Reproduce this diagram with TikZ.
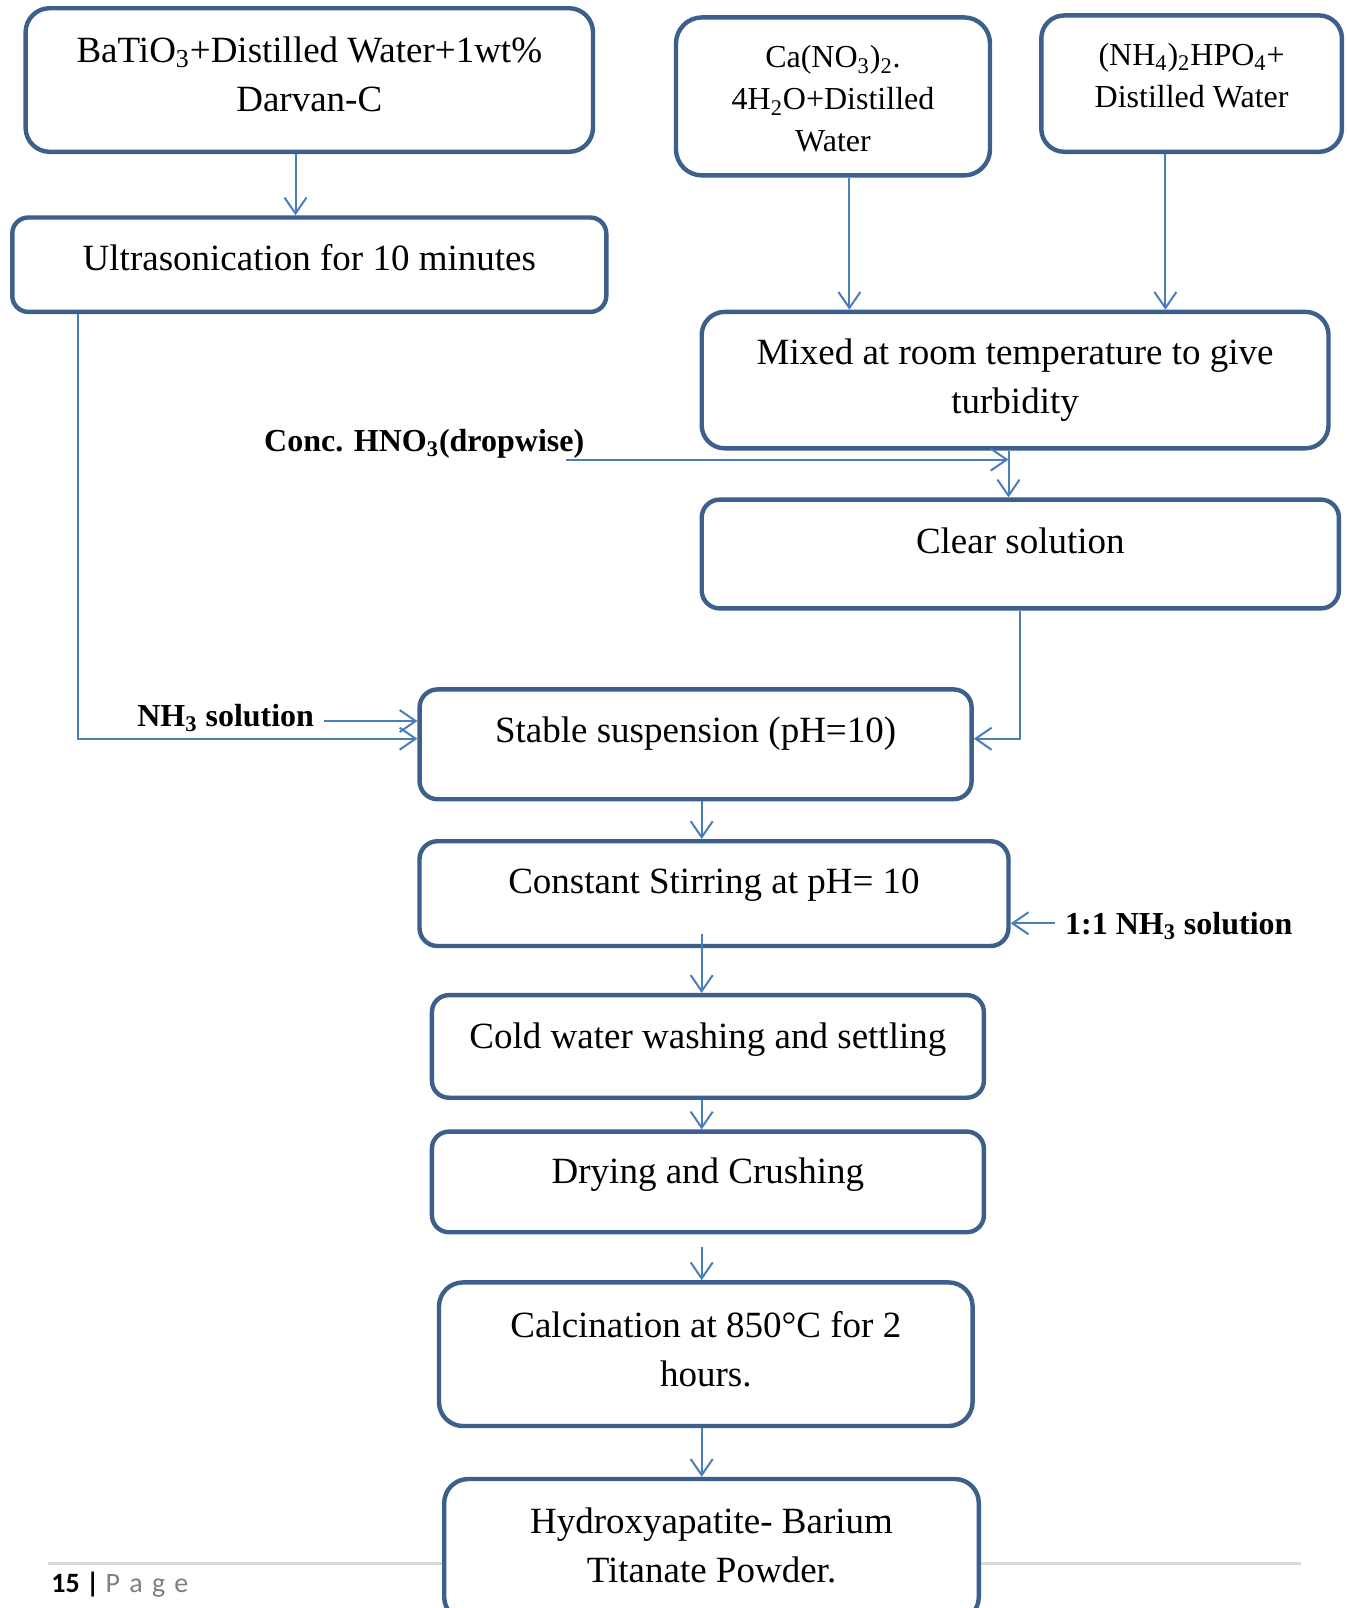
\documentclass[tikz,border=0pt]{standalone}
\usepackage{fontspec}
\setmainfont{Liberation Serif}
\newfontfamily\pagefont{Carlito}
\usetikzlibrary{arrows.meta}
\definecolor{boxblue}{HTML}{3C5F8C}
\definecolor{lineblue}{HTML}{4A7EBB}
\definecolor{rulegray}{HTML}{D9D9D9}
\definecolor{pagegray}{HTML}{7F7F7F}
\tikzset{
  box/.style={draw=boxblue, line width=2.2pt, fill=white, rounded corners=#1, inner sep=0pt},
  box/.default=9pt,
  txt/.style={align=center, font=\fontsize{18.5}{24.5}\selectfont, inner sep=0pt},
  small/.style={align=center, font=\fontsize{16}{21}\selectfont, inner sep=0pt},
  lbl/.style={font=\fontsize{16}{19}\selectfont\bfseries, inner sep=0pt},
  arr/.style={draw=lineblue, line width=1pt, -{Straight Barb[length=8pt,width=11pt]}},
}

\begin{document}
\begin{tikzpicture}[x=0.5pt,y=-0.5pt]
\useasboundingbox (0,0) rectangle (1347,1608);

%page footer
\draw[rulegray, line width=1.5pt] (48,1563.5) -- (1301,1563.5);
\node[anchor=west, inner sep=0pt, font=\pagefont\fontsize{14}{16}\selectfont] (page) at (51,1585) {\textbf{15 |} \textcolor{pagegray}{P\hspace{4.6pt}a\hspace{4.6pt}g\hspace{4.6pt}e}};

%starting solutions
\node[box=12pt, minimum width=283.7pt, minimum height=71.8pt] (batio) at (309.3,80) {};
\node[txt] (batioT) at ([yshift=3pt]batio.center) {BaTiO\textsubscript{3}+Distilled Water+1wt\%\\Darvan-C};

\node[box=13pt, minimum width=157pt, minimum height=79pt] (cano) at (833,96.4) {};
\node[small] (canoT) at ([yshift=-1.3pt]cano.center) {Ca(NO\textsubscript{3})\textsubscript{2}.\\4H\textsubscript{2}O+Distilled\\Water};

\node[box=11.5pt, minimum width=150.3pt, minimum height=68.2pt] (nhpo) at (1191.6,83.6) {};
\node[small] (nhpoT) at ([yshift=3.9pt]nhpo.center) {(NH\textsubscript{4})\textsubscript{2}HPO\textsubscript{4}+\\Distilled Water};

\node[box=8pt, minimum width=297pt, minimum height=47.2pt] (ultra) at (309.3,264.7) {};
\node[txt] (ultraT) at ([yshift=3.6pt]ultra.center) {Ultrasonication for 10 minutes};

\node[box=11.5pt, minimum width=313.4pt, minimum height=68.2pt] (mixed) at (1015.1,380.1) {};
\node[txt] (mixedT) at ([yshift=-0.2pt]mixed.center) {Mixed at room temperature to give\\turbidity};

\node[box, minimum width=318.6pt, minimum height=54.4pt] (clear) at (1020.3,554) {};
\node[txt] (clearT) at ([yshift=6.7pt]clear.center) {Clear solution};

%main line
\node[box, minimum width=276pt, minimum height=54.9pt] (stable) at (695.6,744.3) {};
\node[txt] (stableT) at ([yshift=5.5pt]stable.center) {Stable suspension (pH=10)};

\node[box, minimum width=294.5pt, minimum height=52.4pt] (stir) at (714,893.6) {};
\node[txt] (stirT) at ([yshift=4.2pt]stir.center) {Constant Stirring at pH= 10};

\node[box=8.5pt, minimum width=276pt, minimum height=51.3pt] (wash) at (707.9,1046.4) {};
\node[txt] (washT) at ([yshift=3.6pt]wash.center) {Cold water washing and settling};

\node[box=8.5pt, minimum width=276pt, minimum height=50.3pt] (dry) at (707.9,1181.9) {};
\node[txt] (dryT) at ([yshift=3.7pt]dry.center) {Drying and Crushing};

\node[box=12pt, minimum width=266.8pt, minimum height=71.8pt] (calc) at (705.8,1354.2) {};
\node[txt] (calcT) at ([yshift=2.3pt]calc.center) {Calcination at 850°C for 2\\hours.};

\node[box=12pt, minimum width=267.3pt, minimum height=71pt] (hap) at (711.5,1550) {};
\node[txt] (hapT) at ([yshift=2.5pt]hap.center) {Hydroxyapatite- Barium\\Titanate Powder.};

%added reagents
\node[lbl] (hno) at (424.2,444) {Conc. HNO\textsubscript{3}(dropwise)};
\node[lbl] (nh) at (225.7,718) {NH\textsubscript{3} solution};
\node[lbl] (nhr) at (1178.8,926.4) {1:1 NH\textsubscript{3} solution};

%bends and free ends
\coordinate (c1) at (295.5,0);
\coordinate (c2) at (849.4,0);
\coordinate (c3) at (1165.4,0);
\coordinate (c4) at (1008.5,459.6);
\coordinate (c5) at (78,738.7);
\coordinate (c6) at (1020,738.7);
\coordinate (c7) at (701.7,0);
\coordinate (c8) at (324,721);
\coordinate (c9) at (1054.6,923.3);
\coordinate (c10) at (566.3,459.6);
\coordinate (c11) at (701.7,933.6);
\coordinate (c12) at (701.7,1246.5);

\draw[arr] (c1 |- batio.south) -- (c1 |- ultra.north);
\draw[arr] (c2 |- cano.south) -- (c2 |- mixed.north);
\draw[arr] (c3 |- nhpo.south) -- (c3 |- mixed.north);
\draw[arr] (c4 |- mixed.south) -- (c4 |- clear.north);
\draw[arr] (c10) -- (c4);
\draw[arr] (c5 |- ultra.south) -- (c5) -- (c5 -| stable.west);
\draw[arr] (c8) -- (c8 -| stable.west);
\draw[arr] (c6 |- clear.south) -- (c6) -- (c6 -| stable.east);

\draw[arr] (c7 |- stable.south) -- (c7 |- stir.north);
\draw[arr] (c11) -- (c7 |- wash.north);
\draw[arr] (c7 |- wash.south) -- (c7 |- dry.north);
\draw[arr] (c12) -- (c7 |- calc.north);
\draw[arr] (c7 |- calc.south) -- (c7 |- hap.north);
\draw[arr] (c9) -- (c9 -| stir.east);

\end{tikzpicture}
\end{document}
